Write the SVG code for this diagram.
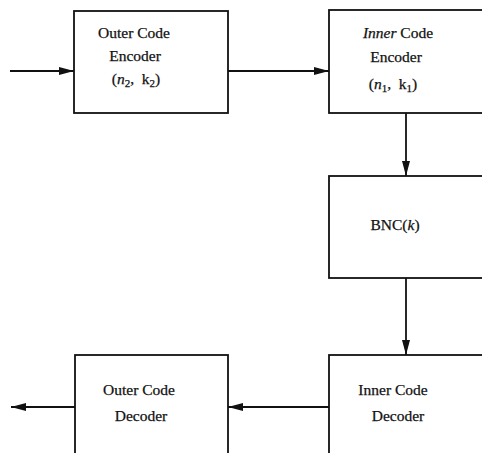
<svg xmlns="http://www.w3.org/2000/svg" width="482" height="453" viewBox="0 0 482 453">
  <style>
    .box { fill: #fff; stroke: #111; stroke-width: 1.8; }
    .wire { fill: none; stroke: #111; stroke-width: 1.8; }
    text { font-family: "Liberation Serif", "Times New Roman", serif; font-size: 15.5px; fill: #111; stroke: #111; stroke-width: 0.25; text-anchor: middle; }
    .it { font-style: italic; }
    .sub { font-size: 11px; }
  </style>
  <defs>
    <marker id="arrow" viewBox="0 0 15 8" refX="15" refY="4" markerWidth="15" markerHeight="8" markerUnits="userSpaceOnUse" orient="auto">
      <path d="M0,0 L15,4 L0,8 Z" fill="#111"/>
    </marker>
  </defs>
  <rect width="482" height="453" fill="#fff"/>

  <g id="connectors">
    <line class="wire" x1="10" y1="71" x2="74" y2="71" marker-end="url(#arrow)"/>
    <line class="wire" x1="228" y1="71" x2="329" y2="71" marker-end="url(#arrow)"/>
    <line class="wire" x1="406" y1="113" x2="406" y2="176" marker-end="url(#arrow)"/>
    <line class="wire" x1="406" y1="278" x2="406" y2="355" marker-end="url(#arrow)"/>
    <line class="wire" x1="329" y1="407" x2="228" y2="407" marker-end="url(#arrow)"/>
    <line class="wire" x1="75" y1="407" x2="11" y2="407" marker-end="url(#arrow)"/>
  </g>

  <g id="outer-encoder">
    <rect class="box" x="74" y="11" width="154" height="102"/>
    <text x="134" y="38">Outer Code</text>
    <text x="135" y="61">Encoder</text>
    <text x="136" y="84">(<tspan class="it">n</tspan><tspan class="sub" dy="3">2</tspan><tspan dy="-3">,&#160;&#160;k</tspan><tspan class="sub" dy="3">2</tspan><tspan dy="-3">)</tspan></text>
  </g>

  <g id="inner-encoder">
    <rect class="box" x="329" y="10" width="160" height="103"/>
    <text x="398" y="38"><tspan class="it">Inner</tspan> Code</text>
    <text x="396" y="62">Encoder</text>
    <text x="393" y="89">(<tspan class="it">n</tspan><tspan class="sub" dy="3">1</tspan><tspan dy="-3">,&#160;&#160;k</tspan><tspan class="sub" dy="3">1</tspan><tspan dy="-3">)</tspan></text>
  </g>

  <g id="channel">
    <rect class="box" x="329" y="176" width="160" height="102"/>
    <text x="395" y="230">BNC(<tspan class="it">k</tspan>)</text>
  </g>

  <g id="inner-decoder">
    <rect class="box" x="329" y="355" width="160" height="110"/>
    <text x="393" y="395">Inner Code</text>
    <text x="398" y="421">Decoder</text>
  </g>

  <g id="outer-decoder">
    <rect class="box" x="75" y="355" width="153" height="110"/>
    <text x="139" y="395">Outer Code</text>
    <text x="141" y="421">Decoder</text>
  </g>
</svg>
